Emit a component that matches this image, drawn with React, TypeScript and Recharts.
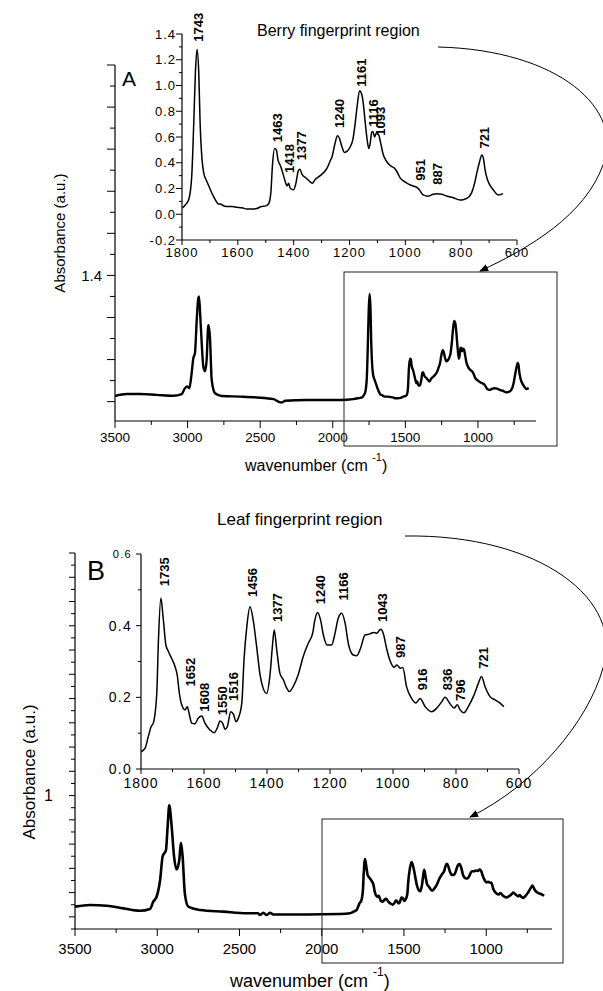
import React from 'react';
import { LineChart, Line, XAxis, YAxis, ReferenceDot } from 'recharts';

const FONT = "'Liberation Sans', Arial, Helvetica, sans-serif";

// ---------- Panel A (berry) ----------
const berryHighWn = [3500, 3420, 3328, 3213, 3098, 3041, 3018, 3002, 2988, 2972, 2961, 2949, 2937, 2926, 2921, 2910, 2891, 2880, 2869, 2857, 2846, 2834, 2811, 2765, 2638, 2523, 2408, 2374, 2351, 2328, 2179, 1950, 1859, 1813];
const berryHighAbs = [0.067, 0.09, 0.09, 0.08, 0.07, 0.09, 0.16, 0.18, 0.16, 0.34, 0.51, 0.58, 0.97, 1.23, 1.25, 0.93, 0.41, 0.36, 0.49, 0.91, 0.77, 0.26, 0.1, 0.067, 0.06, 0.05, 0.03, 0.0, -0.01, 0.01, 0.02, 0.02, 0.03, 0.045];

const berryFpWn = [1798, 1785, 1775, 1765, 1758, 1752, 1746, 1740, 1735, 1728, 1722, 1712, 1700, 1690, 1680, 1670, 1662, 1655, 1640, 1620, 1604, 1585, 1568, 1550, 1532, 1515, 1500, 1490, 1482, 1476, 1468, 1462, 1456, 1448, 1443, 1431, 1424, 1418, 1412, 1400, 1392, 1383, 1378, 1370, 1355, 1340, 1333, 1323, 1305, 1290, 1280, 1270, 1262, 1252, 1243, 1236, 1228, 1218, 1208, 1196, 1188, 1180, 1172, 1164, 1156, 1150, 1144, 1138, 1131, 1126, 1120, 1116, 1110, 1104, 1096, 1088, 1080, 1070, 1060, 1048, 1040, 1030, 1018, 1000, 985, 972, 960, 950, 936, 918, 900, 887, 869, 850, 830, 804, 790, 775, 762, 752, 744, 735, 726, 720, 714, 706, 698, 685, 667, 650];
const berryFpAbs = [0.05, 0.08, 0.12, 0.3, 0.7, 1.1, 1.28, 1.1, 0.7, 0.42, 0.32, 0.26, 0.2, 0.15, 0.11, 0.08, 0.08, 0.07, 0.06, 0.06, 0.055, 0.05, 0.04, 0.04, 0.045, 0.06, 0.065, 0.08, 0.16, 0.38, 0.51, 0.5, 0.42, 0.38, 0.35, 0.26, 0.22, 0.24, 0.2, 0.19, 0.24, 0.34, 0.35, 0.31, 0.28, 0.25, 0.24, 0.27, 0.3, 0.33, 0.36, 0.41, 0.45, 0.55, 0.61, 0.59, 0.53, 0.48, 0.49, 0.53, 0.58, 0.7, 0.85, 0.96, 0.93, 0.85, 0.72, 0.6, 0.51, 0.55, 0.64, 0.64, 0.6, 0.63, 0.62, 0.55, 0.47, 0.42, 0.39, 0.37, 0.36, 0.33, 0.28, 0.25, 0.23, 0.22, 0.21, 0.19, 0.15, 0.14, 0.155, 0.16, 0.155, 0.14, 0.13, 0.11, 0.115, 0.13, 0.17, 0.24, 0.32, 0.4, 0.46, 0.43, 0.34, 0.27, 0.23, 0.19, 0.15, 0.16];

const berryPeakLabels = ['1743', '1463', '1418', '1377', '1240', '1161', '1116', '1093', '951', '887', '721'];
const berryPeakWn = [1743, 1463, 1418, 1377, 1240, 1161, 1116, 1093, 951, 887, 721];
const berryPeakLabelY = [1.34, 0.56, 0.32, 0.42, 0.67, 0.99, 0.68, 0.61, 0.26, 0.23, 0.51];

// ---------- Panel B (leaf) ----------
const leafHighWn = [3500, 3409, 3307, 3206, 3105, 3044, 3024, 3004, 2983, 2967, 2947, 2937, 2927, 2912, 2898, 2882, 2866, 2856, 2846, 2832, 2811, 2740, 2598, 2456, 2386, 2376, 2355, 2335, 2315, 2294, 2091, 1889, 1828, 1810];
const leafHighAbs = [0.084, 0.098, 0.092, 0.07, 0.05, 0.065, 0.125, 0.166, 0.3, 0.5, 0.55, 0.74, 0.92, 0.74, 0.5, 0.39, 0.47, 0.61, 0.5, 0.19, 0.084, 0.057, 0.043, 0.03, 0.03, 0.015, 0.034, 0.015, 0.034, 0.02, 0.02, 0.024, 0.03, 0.04];

const leafFpWn = [1800, 1787, 1777, 1768, 1761, 1750, 1745, 1737, 1729, 1721, 1713, 1703, 1692, 1685, 1678, 1671, 1660, 1653, 1647, 1639, 1629, 1618, 1607, 1597, 1581, 1568, 1558, 1549, 1541, 1533, 1526, 1515, 1507, 1498, 1491, 1480, 1473, 1464, 1454, 1443, 1433, 1422, 1412, 1401, 1390, 1382, 1377, 1369, 1359, 1348, 1337, 1329, 1317, 1301, 1285, 1269, 1255, 1248, 1239, 1230, 1221, 1209, 1195, 1184, 1174, 1163, 1152, 1142, 1126, 1115, 1103, 1089, 1073, 1063, 1052, 1039, 1031, 1020, 1010, 997, 988, 976, 969, 957, 941, 927, 914, 898, 877, 861, 845, 835, 819, 806, 796, 787, 775, 761, 745, 729, 719, 708, 692, 676, 660, 648];
const leafFpAbs = [0.048, 0.058, 0.09, 0.118, 0.128, 0.21, 0.35, 0.477, 0.416, 0.346, 0.328, 0.309, 0.286, 0.262, 0.21, 0.18, 0.165, 0.174, 0.154, 0.128, 0.126, 0.142, 0.148, 0.128, 0.109, 0.101, 0.114, 0.134, 0.128, 0.111, 0.118, 0.16, 0.154, 0.132, 0.142, 0.184, 0.304, 0.398, 0.453, 0.411, 0.342, 0.263, 0.225, 0.211, 0.267, 0.351, 0.388, 0.332, 0.267, 0.249, 0.225, 0.216, 0.23, 0.263, 0.314, 0.351, 0.379, 0.416, 0.437, 0.416, 0.374, 0.346, 0.346, 0.379, 0.421, 0.435, 0.407, 0.351, 0.318, 0.316, 0.337, 0.374, 0.377, 0.381, 0.379, 0.39, 0.379, 0.335, 0.304, 0.284, 0.29, 0.281, 0.283, 0.23, 0.197, 0.184, 0.197, 0.174, 0.16, 0.17, 0.188, 0.2, 0.182, 0.17, 0.179, 0.165, 0.157, 0.174, 0.202, 0.239, 0.258, 0.23, 0.202, 0.193, 0.184, 0.174];

const leafPeakLabels = ['1735', '1652', '1608', '1550', '1516', '1456', '1377', '1240', '1166', '1043', '987', '916', '836', '796', '721'];
const leafPeakWn = [1735, 1652, 1608, 1550, 1516, 1456, 1377, 1240, 1166, 1043, 987, 916, 836, 796, 721];
const leafPeakLabelY = [0.51, 0.23, 0.16, 0.15, 0.19, 0.48, 0.41, 0.46, 0.47, 0.41, 0.31, 0.22, 0.22, 0.19, 0.28];

// ---------- Ticks ----------
const mainXTicks = [3500, 3250, 3000, 2750, 2500, 2250, 2000, 1750, 1500, 1250, 1000, 750];
const mainXLabels = ['3500', '', '3000', '', '2500', '', '2000', '', '1500', '', '1000', ''];
const insetXTicks = [1800, 1700, 1600, 1500, 1400, 1300, 1200, 1100, 1000, 900, 800, 700, 600];
const insetXLabels = ['1800', '', '1600', '', '1400', '', '1200', '', '1000', '', '800', '', '600'];
const mainAYTicks = [0, 0.25, 0.5, 0.75, 1, 1.25, 1.5, 1.75, 2, 2.25, 2.5, 2.75, 3, 3.25, 3.5, 3.75, 4];
const mainAYLabels = ['', '', '', '', '', '', '1.4', '', '', '', '', '', '', '', '', '', ''];
const insetAYTicks = [-0.2, -0.1, 0, 0.1, 0.2, 0.3, 0.4, 0.5, 0.6, 0.7, 0.8, 0.9, 1, 1.1, 1.2, 1.3, 1.4];
const insetAYLabels = ['-0.2', '', '0.0', '', '0.2', '', '0.4', '', '0.6', '', '0.8', '', '1.0', '', '1.2', '', '1.4'];
const mainBYTicks = [-0.1, 0, 0.1, 0.2, 0.3, 0.4, 0.5, 0.6, 0.7, 0.8, 0.9, 1, 1.1, 1.2, 1.3, 1.4, 1.5, 1.6, 1.7, 1.8, 1.9, 2, 2.1, 2.2, 2.3, 2.4, 2.5, 2.6, 2.7, 2.8, 2.9, 3];
const mainBYLabels = ['', '', '', '', '', '', '', '', '', '', '', '1', '', '', '', '', '', '', '', '', '', '', '', '', '', '', '', '', '', '', '', ''];
const insetBYTicks = [0, 0.1, 0.2, 0.3, 0.4, 0.5, 0.6];
const insetBYLabels = ['0.0', '', '0.2', '', '0.4', '', '0.6'];

const zip = (wn: number[], a: number[]) => wn.map((w, i) => ({ wn: w, abs: a[i] }));
const berryMain = [...zip(berryHighWn, berryHighAbs), ...zip(berryFpWn, berryFpAbs)];
const berryInset = zip(berryFpWn, berryFpAbs);
const leafMain = [...zip(leafHighWn, leafHighAbs), ...zip(leafFpWn, leafFpAbs)];
const leafInset = zip(leafFpWn, leafFpAbs);

const W = 603;
const H = 991;

type TickCfg = {
  ticks: number[];
  labels: string[];
  isMajor: (i: number) => boolean;
  major: number;
  minor: number;
  off: number;
  fontSize: number | ((i: number) => number);
  ls?: number;
};

const findIdx = (ticks: number[], v: number) => ticks.findIndex((t) => Math.abs(t - v) < 1e-6);

const makeXTick = (c: TickCfg) => (p: any) => {
  const { x, y, payload } = p;
  const i = findIdx(c.ticks, payload.value);
  const maj = c.isMajor(i);
  const fs = typeof c.fontSize === 'function' ? c.fontSize(i) : c.fontSize;
  return (
    <g>
      <line x1={x} x2={x} y1={y} y2={y + (maj ? c.major : c.minor)} stroke="#000" strokeWidth={1} />
      {c.labels[i] ? (
        <text x={x} y={y + c.off} textAnchor="middle" dominantBaseline="central" fontSize={fs} fontFamily={FONT} letterSpacing={c.ls || 0} fill="#000">
          {c.labels[i]}
        </text>
      ) : null}
    </g>
  );
};

const makeYTick = (c: TickCfg) => (p: any) => {
  const { x, y, payload } = p;
  const i = findIdx(c.ticks, payload.value);
  const maj = c.isMajor(i);
  const fs = typeof c.fontSize === 'function' ? c.fontSize(i) : c.fontSize;
  return (
    <g>
      <line x1={x - (maj ? c.major : c.minor)} x2={x} y1={y} y2={y} stroke="#000" strokeWidth={1} />
      {c.labels[i] ? (
        <text x={x - c.off} y={y} textAnchor="end" dominantBaseline="central" fontSize={fs} fontFamily={FONT} letterSpacing={c.ls || 0} fill="#000">
          {c.labels[i]}
        </text>
      ) : null}
    </g>
  );
};

const peakShape = (text: string, dx: number) => (p: any) => (
  <text
    x={p.cx + dx}
    y={p.cy}
    transform={`rotate(-90 ${p.cx + dx} ${p.cy})`}
    textAnchor="start"
    dominantBaseline="central"
    fontSize={13}
    fontWeight="bold"
    fontFamily={FONT}
    fill="#000"
  >
    {text}
  </text>
);

const even = (i: number) => i % 2 === 0;
const odd = (i: number) => i % 2 === 1;

const layer: React.CSSProperties = { position: 'absolute', left: 0, top: 0, width: W, height: H };
const axisStroke = { stroke: '#000', strokeWidth: 1.2 };

type Box = { top: number; left: number; right: number; bottom: number };

// plot box given in page pixels; axis reserves 1px, so margins are adjusted by 1
function Frame(props: { plot: Box; data: any[]; xDomain: [number, number]; yDomain: [number, number]; xTicks: number[]; yTicks: number[]; xTick: any; yTick: any; sw: number; children?: React.ReactNode }) {
  const p = props.plot;
  const m = { top: p.top, left: p.left - 1, right: W - p.right, bottom: H - p.bottom - 1 };
  return (
    <div style={layer}>
      <LineChart width={W} height={H} data={props.data} margin={m}>
        <XAxis
          type="number"
          dataKey="wn"
          domain={props.xDomain}
          reversed
          allowDataOverflow
          ticks={props.xTicks}
          interval={0}
          height={1}
          tickSize={0}
          tickMargin={0}
          tickLine={false}
          axisLine={axisStroke}
          tick={props.xTick}
        />
        <YAxis
          type="number"
          domain={props.yDomain}
          allowDataOverflow
          ticks={props.yTicks}
          interval={0}
          width={1}
          tickSize={0}
          tickMargin={0}
          tickLine={false}
          axisLine={axisStroke}
          tick={props.yTick}
        />
        <Line type="monotone" dataKey="abs" stroke="#000" strokeWidth={props.sw} dot={false} activeDot={false} isAnimationActive={false} />
        {props.children}
      </LineChart>
    </div>
  );
}

export default function App() {
  return (
    <div style={{ position: 'absolute', left: 0, top: 0, width: W, height: H, background: '#fff', overflow: 'hidden' }}>
      {/* Panel A main */}
      <Frame
        plot={{ top: 65, left: 115, right: 536, bottom: 421 }}
        data={berryMain}
        xDomain={[600, 3500]}
        yDomain={[-0.23, 4.0]}
        xTicks={mainXTicks}
        yTicks={mainAYTicks}
        xTick={makeXTick({ ticks: mainXTicks, labels: mainXLabels, isMajor: even, major: 7, minor: 4, off: 16, fontSize: 13.5 })}
        yTick={makeYTick({ ticks: mainAYTicks, labels: mainAYLabels, isMajor: even, major: 8, minor: 5, off: 13, fontSize: 15 })}
        sw={2.4}
      />
      {/* Panel A inset */}
      <Frame
        plot={{ top: 34, left: 182, right: 517, bottom: 240 }}
        data={berryInset}
        xDomain={[600, 1800]}
        yDomain={[-0.2, 1.4]}
        xTicks={insetXTicks}
        yTicks={insetAYTicks}
        xTick={makeXTick({ ticks: insetXTicks, labels: insetXLabels, isMajor: even, major: 5, minor: 3, off: 12, fontSize: 13, ls: 1 })}
        yTick={makeYTick({ ticks: insetAYTicks, labels: insetAYLabels, isMajor: even, major: 6, minor: 3, off: 6, fontSize: 13, ls: 1 })}
        sw={1.5}
      >
        {berryPeakWn.map((w, i) => (
          <ReferenceDot key={'bp' + i} x={w} y={berryPeakLabelY[i]} r={0} ifOverflow="visible" shape={peakShape(berryPeakLabels[i], 1)} />
        ))}
      </Frame>
      {/* Panel B main */}
      <Frame
        plot={{ top: 553, left: 75, right: 552, bottom: 929 }}
        data={leafMain}
        xDomain={[600, 3500]}
        yDomain={[-0.1, 3.0]}
        xTicks={mainXTicks}
        yTicks={mainBYTicks}
        xTick={makeXTick({ ticks: mainXTicks, labels: mainXLabels, isMajor: even, major: 7, minor: 4, off: 19, fontSize: 15 })}
        yTick={makeYTick({ ticks: mainBYTicks, labels: mainBYLabels, isMajor: odd, major: 6, minor: 4, off: 22, fontSize: 16 })}
        sw={2.6}
      />
      {/* Panel B inset */}
      <Frame
        plot={{ top: 554, left: 141, right: 519, bottom: 769 }}
        data={leafInset}
        xDomain={[600, 1800]}
        yDomain={[0, 0.6]}
        xTicks={insetXTicks}
        yTicks={insetBYTicks}
        xTick={makeXTick({ ticks: insetXTicks, labels: insetXLabels, isMajor: even, major: 5, minor: 3, off: 14, fontSize: 14, ls: 1 })}
        yTick={makeYTick({ ticks: insetBYTicks, labels: insetBYLabels, isMajor: even, major: 5, minor: 3, off: 9, fontSize: (i: number) => (i === 6 ? 11 : 14), ls: 1.3 })}
        sw={1.5}
      >
        {leafPeakWn.map((w, i) => (
          <ReferenceDot key={'lp' + i} x={w} y={leafPeakLabelY[i]} r={0} ifOverflow="visible" shape={peakShape(leafPeakLabels[i], 3)} />
        ))}
      </Frame>
      {/* Annotations */}
      <svg width={W} height={H} style={{ ...layer, pointerEvents: 'none' }}>
        <defs>
          <marker id="arrowHead" viewBox="0 0 10 10" refX="9" refY="5" markerWidth="9" markerHeight="9" markerUnits="userSpaceOnUse" orient="auto">
            <path d="M0,1 L10,5 L0,9 z" fill="#000" />
          </marker>
        </defs>
        <text x={257} y={36} fontSize={16} fontFamily={FONT} fill="#000">Berry fingerprint region</text>
        <text x={217} y={525} fontSize={17} fontFamily={FONT} fill="#000">Leaf fingerprint region</text>
        <text x={122} y={86} fontSize={21} fontFamily={FONT} fill="#000">A</text>
        <text x={87} y={580} fontSize={27} fontFamily={FONT} fill="#000">B</text>
        <text x={65} y={233} fontSize={15} fontFamily={FONT} fill="#000" textAnchor="middle" transform="rotate(-90 65 233)">Absorbance (a.u.)</text>
        <text x={35} y={772} fontSize={17} fontFamily={FONT} fill="#000" textAnchor="middle" transform="rotate(-90 35 772)">Absorbance (a.u.)</text>
        <text x={245} y={471} fontSize={16} fontFamily={FONT} fill="#000">
          wavenumber (cm <tspan fontSize={11} dy={-10}>-1</tspan><tspan dy={10}>)</tspan>
        </text>
        <text x={230} y={987} fontSize={18} fontFamily={FONT} fill="#000">
          wavenumber (cm <tspan fontSize={12} dy={-11}>-1</tspan><tspan dy={11}>)</tspan>
        </text>
        <rect x={344} y={272} width={213} height={174} fill="none" stroke="#222" strokeWidth={1} />
        <rect x={322} y={819} width={241} height={144} fill="none" stroke="#222" strokeWidth={1} />
        <path d="M438,47 C560,50 625,110 603,165 C585,215 530,248 480,271" fill="none" stroke="#000" strokeWidth={1} markerEnd="url(#arrowHead)" />
        <path d="M405,536 C540,534 625,600 603,668 C588,722 535,785 470,817" fill="none" stroke="#000" strokeWidth={1} markerEnd="url(#arrowHead)" />
      </svg>
    </div>
  );
}
